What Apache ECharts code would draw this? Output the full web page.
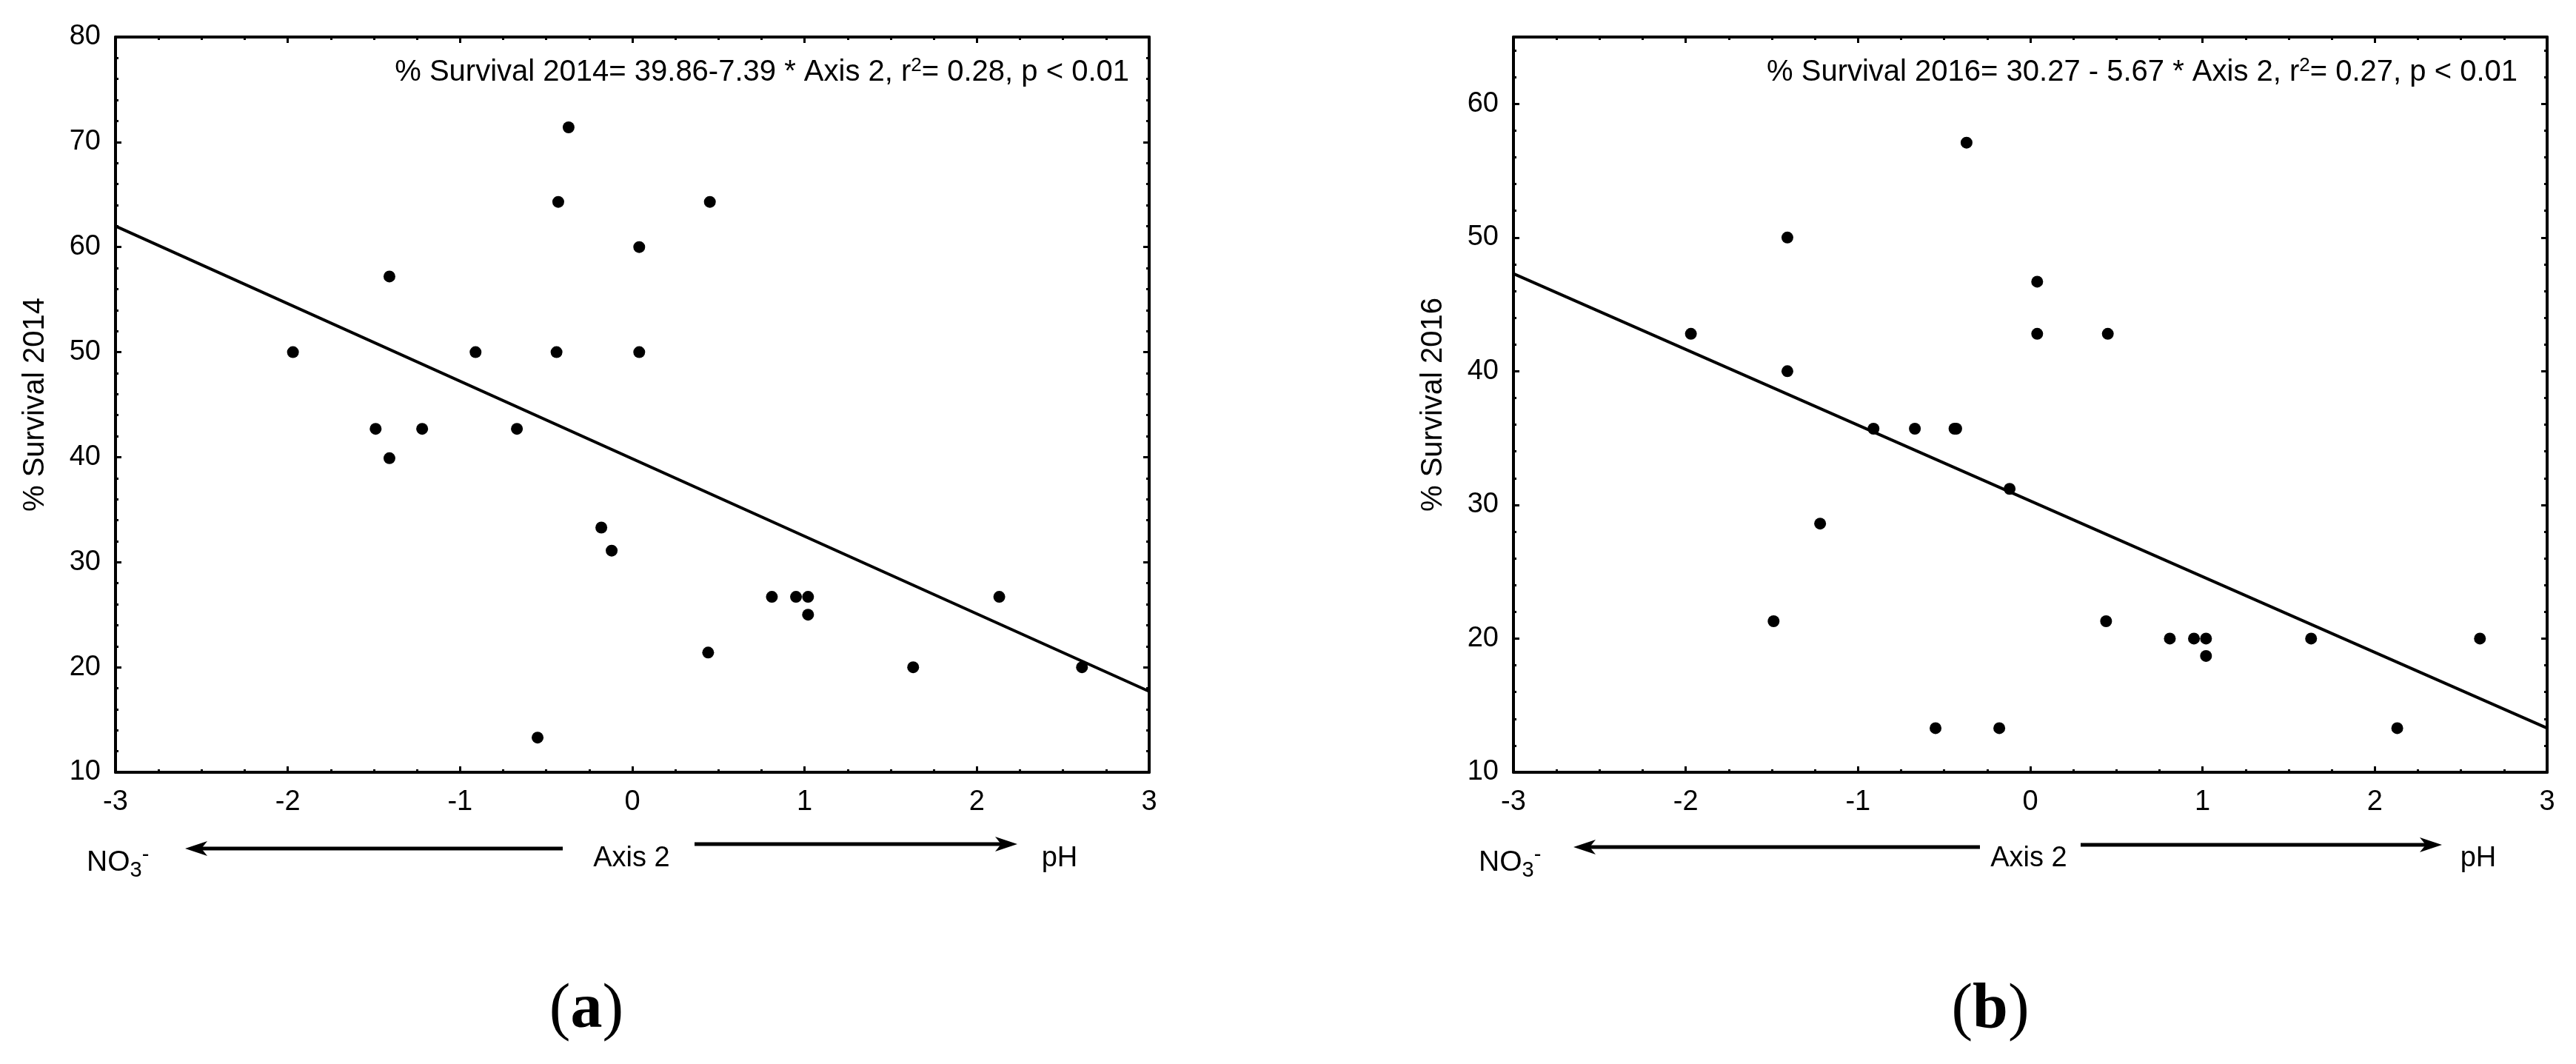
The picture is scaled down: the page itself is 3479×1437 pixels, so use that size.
<!DOCTYPE html>
<html>
<head>
<meta charset="utf-8">
<script src="https://cdn.jsdelivr.net/npm/echarts@6/dist/echarts.min.js"></script>
<style>
  html, body { margin: 0; padding: 0; background: #ffffff; }
  #chart { width: 3479px; height: 1437px; }
</style>
</head>
<body>
<div id="chart"></div>
<script>
// site scores on Axis 2 (same sites in both panels)
const axis2 = [-1.97, -1.49, -1.41, -1.41, -1.22, -0.91, -0.67, -0.55, -0.44, -0.43, -0.37, -0.18,
  -0.12, 0.04, 0.04, 0.44, 0.45, 0.81, 0.95, 1.02, 1.02, 1.63, 2.13, 2.61];
const survival2014 = [50, 42.7, 57.2, 39.9, 42.7, 50, 42.7, 13.3, 50, 64.3, 71.4, 33.3,
  31.1, 60, 50, 21.4, 64.3, 26.7, 26.7, 26.7, 25, 20, 26.7, 20];
const survival2016 = [42.8, 21.3, 50, 40, 28.6, 35.7, 35.7, 13.3, 35.7, 35.7, 57.1, 13.3,
  31.2, 46.7, 42.8, 21.3, 42.8, 20, 20, 20, 18.7, 20, 13.3, 20];

// regression lines, read at the ends of the x range
const fitX = [-3, 3];
const fit2014 = [62.0, 17.7];
const fit2016 = [47.3, 13.3];

const xRange = [-3, 3];
const yRange2014 = [10, 80];
const yRange2016 = [10, 65];

const yNames = ['% Survival 2014', '% Survival 2016'];
const equations = [
  ['% Survival 2014= 39.86-7.39 * Axis 2, r', '2', '= 0.28, p < 0.01'],
  ['% Survival 2016= 30.27 - 5.67 * Axis 2, r', '2', '= 0.27, p < 0.01']
];
const panelTags = ['a', 'b'];

const FONT = '"Liberation Sans", Arial, sans-serif';
const SERIF = '"Liberation Serif", "Times New Roman", serif';

// layout per panel (pixels)
const panels = [
  { left: 156, top: 50, width: 1396, height: 993, eqRight: 1525,
    arrowL: [250, 760, 1146], arrowR: [938, 1374, 1140], axisX: 853, phX: 1431, no3X: 117, tagX: 792 },
  { left: 2044, top: 50, width: 1396, height: 993, eqRight: 3400,
    arrowL: [2125, 2674, 1144], arrowR: [2810, 3298, 1141], axisX: 2740, phX: 3347, no3X: 1997, tagX: 2688 }
];
const yRanges = [yRange2014, yRange2016];
const ySeries = [survival2014, survival2016];
const fits = [fit2014, fit2016];

const chart = echarts.init(document.getElementById('chart'));

const line = { color: '#000', width: 4 };
const tickStyle = { color: '#000', width: 3 };

const grids = [], xAxes = [], yAxes = [], series = [], graphics = [];

panels.forEach((p, i) => {
  grids.push({ left: p.left, top: p.top, width: p.width, height: p.height });

  const xBase = {
    gridIndex: i, type: 'value', min: xRange[0], max: xRange[1], interval: 1,
    axisLine: { onZero: false, lineStyle: line },
    axisTick: { inside: true, length: 8, lineStyle: tickStyle },
    minorTick: { show: true, splitNumber: 4, length: 4, lineStyle: tickStyle },
    splitLine: { show: false }, minorSplitLine: { show: false }
  };
  xAxes.push(Object.assign({}, xBase, {
    position: 'bottom',
    axisLabel: { margin: 22, fontSize: 38, color: '#000', fontFamily: FONT }
  }));
  xAxes.push(Object.assign({}, xBase, { position: 'top', axisLabel: { show: false } }));

  const [ymin, ymax] = yRanges[i];
  const yMajor = {
    gridIndex: i, type: 'value', min: ymin, max: ymax, interval: 10,
    axisLine: { show: true, onZero: false, lineStyle: line },
    axisTick: { inside: true, length: 8, lineStyle: tickStyle },
    splitLine: { show: false }
  };
  const yMinor = {
    gridIndex: i, type: 'value', min: ymin, max: ymax, interval: 2,
    axisLine: { show: false, onZero: false },
    axisTick: { inside: true, length: 4, lineStyle: tickStyle },
    axisLabel: { show: false }, splitLine: { show: false }
  };
  yAxes.push(Object.assign({}, yMajor, {
    position: 'left',
    axisLabel: {
      margin: 20, fontSize: 38, color: '#000', fontFamily: FONT,
      formatter: v => (v % 10 === 0 ? String(v) : '')
    },
    name: yNames[i], nameLocation: 'middle', nameGap: 88,
    nameTextStyle: { fontSize: 40, color: '#000', fontFamily: FONT }
  }));
  yAxes.push(Object.assign({}, yMinor, { position: 'left' }));
  yAxes.push(Object.assign({}, yMajor, { position: 'right', axisLabel: { show: false } }));
  yAxes.push(Object.assign({}, yMinor, { position: 'right' }));

  series.push({
    type: 'scatter', xAxisIndex: i * 2, yAxisIndex: i * 4,
    symbol: 'circle', symbolSize: 16, itemStyle: { color: '#000', opacity: 1 },
    data: axis2.map((x, k) => [x, ySeries[i][k]]), z: 3
  });
  series.push({
    type: 'line', xAxisIndex: i * 2, yAxisIndex: i * 4,
    showSymbol: false, symbol: 'none', lineStyle: { color: '#000', width: 4, opacity: 1 },
    data: fitX.map((x, k) => [x, fits[i][k]]), z: 2
  });

  // equation in the top right corner
  const eq = equations[i];
  graphics.push({
    type: 'text', x: p.eqRight, y: 98, z: 10,
    style: {
      text: '{n|' + eq[0] + '}{s|' + eq[1] + '}{n|' + eq[2] + '}',
      align: 'right', verticalAlign: 'middle',
      rich: {
        n: { fontSize: 40, lineHeight: 44, fontFamily: FONT, fill: '#000' },
        s: { fontSize: 26, lineHeight: 26, verticalAlign: 'top', fontFamily: FONT, fill: '#000' }
      }
    }
  });

  // NO3- <---- Axis 2 ----> pH
  const [l0, l1, ly] = p.arrowL;
  const [r0, r1, ry] = p.arrowR;
  graphics.push({ type: 'line', shape: { x1: l0 + 20, y1: ly, x2: l1, y2: ly }, style: { stroke: '#000', lineWidth: 5 } });
  graphics.push({ type: 'polygon', shape: { points: [[l0, ly], [l0 + 30, ly - 10], [l0 + 22, ly], [l0 + 30, ly + 10]] }, style: { fill: '#000' } });
  graphics.push({ type: 'line', shape: { x1: r0, y1: ry, x2: r1 - 20, y2: ry }, style: { stroke: '#000', lineWidth: 5 } });
  graphics.push({ type: 'polygon', shape: { points: [[r1, ry], [r1 - 30, ry - 10], [r1 - 22, ry], [r1 - 30, ry + 10]] }, style: { fill: '#000' } });
  graphics.push({
    type: 'text', x: p.axisX, y: 1160,
    style: { text: 'Axis 2', fontSize: 38, fontFamily: FONT, fill: '#000', align: 'center', verticalAlign: 'middle' }
  });
  graphics.push({
    type: 'text', x: p.phX, y: 1160,
    style: { text: 'pH', fontSize: 38, fontFamily: FONT, fill: '#000', align: 'center', verticalAlign: 'middle' }
  });
  graphics.push({
    type: 'text', x: p.no3X, y: 1165,
    style: {
      text: '{n|NO}{b|3}{t|-}', align: 'left', verticalAlign: 'middle',
      rich: {
        n: { fontSize: 39, lineHeight: 50, fontFamily: FONT, fill: '#000' },
        b: { fontSize: 29, lineHeight: 29, verticalAlign: 'bottom', fontFamily: FONT, fill: '#000' },
        t: { fontSize: 29, lineHeight: 29, verticalAlign: 'top', fontFamily: FONT, fill: '#000' }
      }
    }
  });

  // panel tag (a) / (b)
  graphics.push({
    type: 'text', x: p.tagX, y: 1365,
    style: {
      text: '{p|(}{t|' + panelTags[i] + '}{p|)}', align: 'center', verticalAlign: 'middle',
      rich: {
        p: { fontSize: 86, fontFamily: SERIF, fill: '#000' },
        t: { fontSize: 86, fontFamily: SERIF, fontWeight: 'bold', fill: '#000' }
      }
    }
  });
});

chart.setOption({
  backgroundColor: '#ffffff',
  animation: false,
  grid: grids,
  xAxis: xAxes,
  yAxis: yAxes,
  series: series,
  graphic: graphics
});
</script>
</body>
</html>
